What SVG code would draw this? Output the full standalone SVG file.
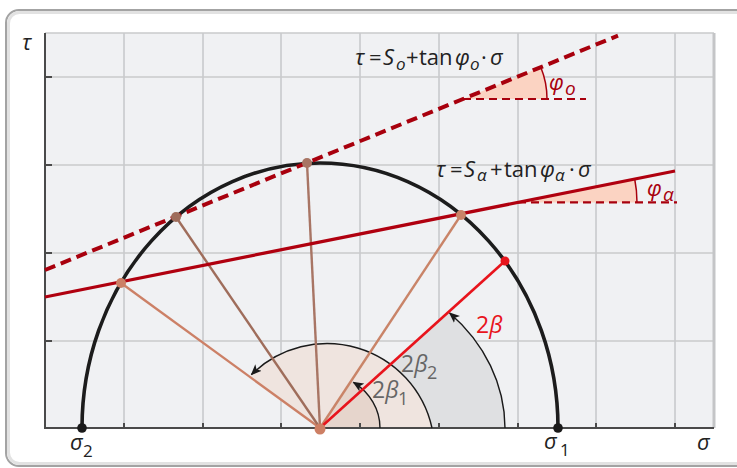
<svg xmlns="http://www.w3.org/2000/svg" width="737" height="468" viewBox="0 0 737 468">
<defs>
<style>
.grid{stroke:#c9cacc;stroke-width:1.6;fill:none}
.axis{stroke:#4a4a4a;stroke-width:2;fill:none}
.tick{stroke:#4a4a4a;stroke-width:2}
.t{font-family:"Open Sans","Noto Sans","DejaVu Sans",sans-serif;fill:#222;font-size:22px}
.it{font-style:italic}
.sub{font-size:17px}
.dr{fill:#a8000d}
.gl{fill:#666666;font-size:23px}
.rl{fill:#e8141c;font-size:23px}
.arc{fill:none;stroke:#1a1a1a;stroke-width:1.4}
.hd{fill:none;stroke:#a8000d;stroke-width:2.2;stroke-dasharray:8 5}
</style>
<marker id="ah" viewBox="0 0 10 10" refX="9" refY="5" markerWidth="11" markerHeight="11" orient="auto" markerUnits="userSpaceOnUse">
<path d="M0,0.8 L10,5 L0,9.2 L2.5,5 z" fill="#1a1a1a"/>
</marker>
</defs>

<g id="frame">
<rect x="6" y="10" width="800" height="456" rx="13" fill="#ffffff" stroke="#a3a3a3" stroke-width="2"/>
<rect x="8.5" y="12.5" width="800" height="451" rx="11" fill="none" stroke="#e2e2e2" stroke-width="3"/>
</g>

<g id="plot-area">
<rect x="45" y="33" width="669" height="395" fill="#f0f1f3"/>
<path class="grid" d="M124,33V428M203,33V428M281,33V428M360,33V428M439,33V428M518,33V428M596,33V428M675,33V428M45,77H714M45,165H714M45,253H714M45,341H714M45,33H714"/>
<path d="M714,33V428" stroke="#c4c5c7" stroke-width="3"/>
</g>

<g id="sectors">
<path d="M320,428 L505,428 A185,162 0 0 0 448.7,311.7 Z" fill="#dfe0e2"/>
<path d="M320,428 L432,428 A107.5,107.5 0 0 0 249.4,376.6 Z" fill="#efe4df"/>
<path d="M320,428 L380,428 A60,55 0 0 0 351.1,381 Z" fill="#e6d5cc"/>
</g>

<g id="axes">
<path class="axis" d="M45,33V428H714"/>
<path class="tick" d="M45,77H52M45,165H52M45,253H52M45,341H52M124,423V428M203,423V428M281,423V428M360,423V428M439,423V428M518,423V428M596,423V428M675,423V428"/>
</g>

<g id="angle-arcs">
<path class="arc" d="M505,428 A185,162 0 0 0 449.6,313" marker-end="url(#ah)"/>
<path class="arc" d="M432,428 A107.5,107.5 0 0 0 251.5,374.5" marker-end="url(#ah)"/>
<path class="arc" d="M380,428 A60,55 0 0 0 353.5,382.4" marker-end="url(#ah)"/>
</g>

<g id="connectors">
<line x1="320" y1="428" x2="121" y2="283" stroke="#cc8066" stroke-width="2.4"/>
<line x1="320" y1="428" x2="176" y2="217" stroke="#9f6d5b" stroke-width="2.4"/>
<line x1="320" y1="428" x2="307" y2="163" stroke="#a87564" stroke-width="2.4"/>
<line x1="320" y1="428" x2="461" y2="215" stroke="#c98468" stroke-width="2.4"/>
<line x1="320" y1="428" x2="505" y2="261" stroke="#e8141c" stroke-width="2.6"/>
</g>

<g id="mohr-circle">
<path d="M82,428 A238,265 0 0 1 558,428" fill="none" stroke="#1c1c1c" stroke-width="3.6"/>
</g>

<g id="failure-line-o">
<path d="M463,99 L547,99 A84,84 0 0 0 540.8,67.3 Z" fill="#fbd3c2"/>
<path d="M547,99 A84,84 0 0 0 540.8,67.3" fill="none" stroke="#a8000d" stroke-width="1.5"/>
<path class="hd" d="M463,99H586"/>
<path d="M45,270 L618,35.6" fill="none" stroke="#a8000d" stroke-width="4" stroke-dasharray="11 6"/>
</g>

<g id="failure-line-alpha">
<path d="M518,202.4 L637,202.4 A119,119 0 0 0 634.7,179 Z" fill="#fbd3c2"/>
<path d="M637,202.4 A119,119 0 0 0 634.7,179" fill="none" stroke="#a8000d" stroke-width="1.5"/>
<path class="hd" d="M518,202.4H677"/>
<path d="M45,297 L675,171" fill="none" stroke="#b0000f" stroke-width="3.2"/>
</g>

<g id="points">
<circle cx="121" cy="283" r="5" fill="#cc8066"/>
<circle cx="176" cy="217" r="5" fill="#9f6d5b"/>
<circle cx="307" cy="163" r="5" fill="#a87564"/>
<circle cx="461" cy="215" r="5" fill="#c98468"/>
<circle cx="505" cy="261" r="4.5" fill="#e8141c"/>
<circle cx="320" cy="429" r="5.5" fill="#cd7f64"/>
<circle cx="82" cy="428" r="4.8" fill="#1a1a1a"/>
<circle cx="558" cy="428" r="4.8" fill="#1a1a1a"/>
</g>

<g id="labels">
<text class="t it" x="22" y="50">τ</text>
<text class="t it" x="70" y="450">σ</text><text class="t sub" x="83" y="457">2</text>
<text class="t it" x="544" y="449">σ</text><text class="t sub" x="560" y="456">1</text>
<text class="t it" x="697" y="450">σ</text>

<text class="t"><tspan class="it" x="355" y="65">τ</tspan><tspan x="369" y="65">=</tspan><tspan class="it" x="383" y="65">S</tspan><tspan class="it sub" x="396" y="70">o</tspan><tspan x="406" y="65">+</tspan><tspan x="419" y="65">tan</tspan><tspan class="it" x="455" y="65">φ</tspan><tspan class="it sub" x="470" y="70">o</tspan><tspan x="481" y="65">·</tspan><tspan class="it" x="490" y="65">σ</tspan></text>

<text class="t"><tspan class="it" x="436" y="177">τ</tspan><tspan x="450" y="177">=</tspan><tspan class="it" x="464" y="177">S</tspan><tspan class="it sub" x="477" y="181">α</tspan><tspan x="490" y="177">+</tspan><tspan x="504" y="177">tan</tspan><tspan class="it" x="540" y="177">φ</tspan><tspan class="it sub" x="555" y="181">α</tspan><tspan x="569" y="177">·</tspan><tspan class="it" x="578" y="177">σ</tspan></text>

<text class="t dr"><tspan class="it" x="549" y="90">φ</tspan><tspan class="it" x="565" y="95" font-size="19">o</tspan></text>
<text class="t dr"><tspan class="it" x="647" y="196">φ</tspan><tspan class="it" x="663" y="201" font-size="19">α</tspan></text>

<text class="t rl" x="476" y="333">2<tspan class="it">β</tspan></text>
<text class="t gl" x="401" y="372">2<tspan class="it">β</tspan><tspan font-size="18" x="427" y="379">2</tspan></text>
<text class="t gl" x="372" y="398">2<tspan class="it">β</tspan><tspan font-size="18" x="398" y="405">1</tspan></text>
</g>
</svg>
